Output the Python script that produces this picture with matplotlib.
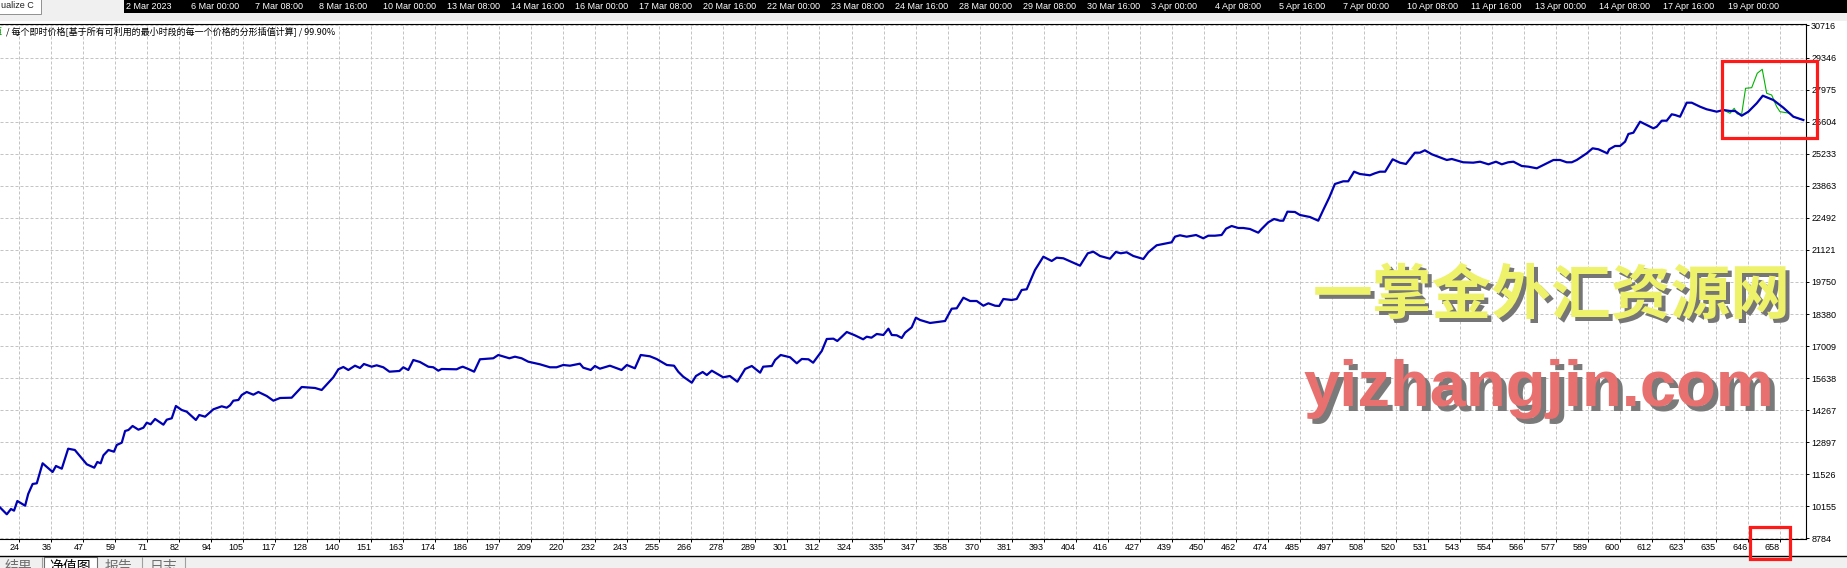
import matplotlib
matplotlib.use("Agg")
import matplotlib.pyplot as plt
from matplotlib.patches import Rectangle
import numpy as np

# balance curve (trade number, balance)
trade = [17.0, 19.5, 21.0, 22.1, 23.3, 26.1, 27.2, 28.8, 30.3, 32.4, 36.0, 37.2, 39.3, 41.6, 44.0,
         48.3, 51.0, 52.1, 53.3, 54.3, 56.1, 58.1, 59.1, 60.9, 62.1, 63.3, 64.8, 66.9, 68.7, 69.9,
         71.3, 72.9, 75.9, 77.1, 78.9, 80.4, 82.5, 84.3, 87.6, 88.8, 90.9, 93.9, 96.9, 98.7, 99.9,
         101.1, 102.9, 104.1, 105.9, 108.3, 110.1, 113.1, 115.5, 117.9, 122.1, 125.7, 130.5, 132.9,
         137.1, 138.9, 140.7, 142.5, 144.9, 146.7, 148.1, 150.9, 152.7, 155.1, 157.3, 160.9, 162.3,
         164.1, 165.9, 168.3, 171.3, 173.1, 174.9, 176.1, 181.5, 182.7,
         183.7, 185.7, 187.8, 189.9, 194.7, 196.5, 200.5, 202.5, 204.9, 207.3, 211.5, 215.1, 217.5,
         219.9, 222.3, 225.9, 227.1, 229.8, 231.3, 233.1, 236.7, 240.9, 242.8, 245.7, 247.8, 251.1,
         253.5, 257.2, 259.8, 261.3, 263.1, 266.2, 267.7, 270.1, 271.6, 273.4, 277.5, 279.9, 282.6,
         285.4, 287.8, 290.8, 291.9, 295.0, 296.2, 298.2, 301.6, 304.0, 305.8, 308.2, 309.9, 313.0,
         314.8, 317.2, 318.6, 322.0, 324.9, 327.9, 329.2, 330.9, 332.8, 335.2, 337.0, 338.2, 340.0,
         341.8, 343.0, 345.4, 346.9, 348.4,
         352.0, 357.4, 359.8, 361.6, 364.0, 366.4, 368.8, 371.2, 373.0, 375.4, 376.9, 378.4, 381.4,
         383.2, 385.0, 386.8, 389.8, 392.8, 395.8, 397.6, 400.0, 403.6, 406.0, 408.8, 410.8, 413.2,
         416.8, 418.9, 420.7, 422.8, 425.2, 428.8, 430.6, 433.6, 436.0, 439.0, 440.2, 442.0, 444.4,
         447.8, 450.4, 452.2, 454.6, 457.0, 458.6, 460.6, 463.0, 464.8, 467.2, 470.2, 471.4, 473.8,
         475.9, 478.0, 479.2, 480.7, 483.4, 485.2, 488.8, 491.8, 493.6, 495.8, 497.8, 500.8, 502.6,
         504.7, 506.8, 510.4, 512.2, 514.0,
         515.9, 518.6, 521.2, 523.4, 526.6, 528.4, 530.2, 532.7, 535.6, 538.1, 539.9, 544.0, 547.6,
         550.1, 553.1, 555.8, 557.9, 560.2, 562.1, 565.1, 567.5, 570.5, 574.1, 576.5, 578.9, 581.3,
         583.1, 584.9, 588.5, 590.6, 592.7, 595.9, 596.6, 598.7, 600.5, 602.3, 603.5, 605.3, 607.7,
         610.1, 612.5, 613.7, 615.5, 617.3, 619.1, 620.3, 622.1, 624.5, 626.3, 629.3, 631.7, 635.3,
         637.7, 640.1, 641.9, 644.3, 646.7, 649.7, 651.9, 655.7, 659.3, 662.9, 666.5]
balance = [10116, 9817, 10043, 9971, 10385, 10184, 10684, 11112, 11142, 11997, 11625, 11882, 11766, 12621, 12566,
           11954, 11809, 12053, 11997, 12339, 12566, 12493, 12780, 12878, 13378, 13421, 13592, 13434, 13519, 13733,
           13665, 13891, 13648, 13861, 13921, 14447, 14276, 14203, 13849, 14062, 13990, 14306, 14434, 14374, 14477,
           14674, 14704, 14917, 15046, 14930, 15046, 14875, 14674, 14789, 14802, 15259, 15217, 15131,
           15674, 16016, 16115, 15986, 16170, 16072, 16243, 16127, 16187, 16102, 15914, 15944, 16102,
           15986, 16414, 16328, 16127, 16102, 15956, 16029, 16016, 16085,
           16127, 16029, 15914, 16444, 16487, 16628, 16487, 16555, 16487, 16341, 16230, 16102, 16102,
           16200, 16170, 16256, 16085, 15986, 16157, 16042, 16170, 15986, 16200, 16059, 16628, 16572,
           16457, 16200, 16170, 15914, 15700, 15443, 15730, 15901, 15772, 15956, 15674, 15730, 15486,
           16029, 16157, 15871, 16127, 16157, 16414, 16628, 16529, 16273, 16457, 16444, 16298, 16799,
           17312, 17325, 17226, 17611, 17470, 17299, 17410, 17367, 17526, 17483, 17752, 17483, 17470,
           17355, 17581, 17812, 18222, 18124,
           17996, 18081, 18607, 18624, 19077, 18936, 18936, 18735, 18838, 18735, 18723, 19022, 18979,
           19022, 19407, 19437, 20262, 20831, 20647, 20788, 20762, 20574, 20446, 20976, 21044, 20861,
           20745, 21032, 20976, 21019, 20861, 20732, 21019, 21318, 21374, 21446, 21686, 21746, 21686,
           21758, 21617, 21728, 21728, 21758, 22028, 22143, 22058, 22058, 22015, 21857, 22015, 22301,
           22442, 22370, 22370, 22755, 22742, 22614, 22528, 22370, 22827, 23370, 23939, 24054, 24054,
           24465, 24367, 24311, 24396, 24465,
           24465, 24995, 24850, 24794, 25277, 25277, 25380, 25209, 25080, 24965, 25008, 24867, 24850,
           24892, 24781, 24892, 24781, 24867, 24892, 24708, 24679, 24610, 24824, 24965, 24965, 24867,
           24867, 24965, 25251, 25465, 25423, 25251, 25423, 25564, 25564, 25748, 26077, 26132, 26603,
           26462, 26320, 26389, 26645, 26645, 26919, 26889, 26816, 27415, 27415, 27244, 27133, 27030,
           27103, 27060, 27060, 26859, 27030, 27389, 27714, 27530, 27201, 26816, 26675]

# equity only departs from balance near the end
eq_trade = [637.7, 640.1, 641.6, 642.7, 644.3, 645.7, 647.9, 649.9, 651.7, 653.3, 655.1, 656.9,
            658.1, 661.7, 662.9, 666.5]
equity = [27103, 26962, 27175, 26932, 26932, 28031, 28056, 28672, 28843, 27817, 27744, 27244,
          27030, 26962, 26816, 26675]

x_labels = [24, 36, 47, 59, 71, 82, 94, 105, 117, 128, 140, 151, 163, 174, 186, 197, 209, 220, 232,
            243, 255, 266, 278, 289, 301, 312, 324, 335, 347, 358, 370, 381, 393, 404, 416, 427, 439,
            450, 462, 474, 485, 497, 508, 520, 531, 543, 554, 566, 577, 589, 600, 612, 623, 635, 646, 658]
y_labels = [8784, 10155, 11526, 12897, 14267, 15638, 17009, 18380, 19750, 21121, 22492, 23863,
            25233, 26604, 27975, 29346, 30716]
dates = ["2 Mar 2023", "6 Mar 00:00", "7 Mar 08:00", "8 Mar 16:00", "10 Mar 00:00", "13 Mar 08:00",
         "14 Mar 16:00", "16 Mar 00:00", "17 Mar 08:00", "20 Mar 16:00", "22 Mar 00:00", "23 Mar 08:00",
         "24 Mar 16:00", "28 Mar 00:00", "29 Mar 08:00", "30 Mar 16:00", "3 Apr 00:00", "4 Apr 08:00",
         "5 Apr 16:00", "7 Apr 00:00", "10 Apr 08:00", "11 Apr 16:00", "13 Apr 00:00", "14 Apr 08:00",
         "17 Apr 16:00", "19 Apr 00:00"]
tabs = ["结果", "净值图", "报告", "日志"]
header = "/ 每个即时价格[基于所有可利用的最小时段的每一个价格的分形插值计算] / 99.90%"

W, H = 1847, 568
CJK = ['Noto Sans CJK SC', 'DejaVu Sans']
plt.rcParams['font.family'] = ['Liberation Sans', 'DejaVu Sans']

fig = plt.figure(figsize=(W / 100, H / 100), dpi=100)
fig.patch.set_facecolor('white')

# background: window chrome in pixel coordinates
bg = fig.add_axes([0, 0, 1, 1], zorder=0)
bg.set_xlim(0, W)
bg.set_ylim(H, 0)
bg.axis('off')
bg.add_patch(Rectangle((0, 0), W, 21, color='#f0f0f0', lw=0))
bg.add_patch(Rectangle((124, 0), W - 124, 12.7, color='black', lw=0))
bg.add_patch(Rectangle((-1, -1), 42, 15, fc='white', ec='#909090', lw=0.7))
bg.text(1, 5, 'ualize C', fontsize=6.5, color='#202020', va='center')
for i, d in enumerate(dates):
    bg.text(126.5 + 64.04 * i, 6.3, d, color='white', fontsize=6.5, va='center', ha='left')

bg.add_patch(Rectangle((0, 556), W, 12, color='#f0f0f0', lw=0))
bg.plot([0, W], [556, 556], color='black', lw=1)
bg.add_patch(Rectangle((44, 556.5), 53, 13, fc='white', ec='#707070', lw=0.8))
for xl in [41.5, 142, 185]:
    bg.plot([xl, xl], [557, 568], color='#a0a0a0', lw=0.8)
tab_x = [18, 70, 118, 163]
for i, t in enumerate(tabs):
    bg.text(tab_x[i], 559.5, t, family=CJK, fontsize=10, ha='center', va='top',
            color='black' if i == 1 else '#707070')

# main chart
ax = fig.add_axes([0, 1 - 539 / H, 1806 / W, (539 - 23.5) / H], zorder=1)
ax.plot(eq_trade, equity, color='#00b400', lw=0.8, zorder=3)
ax.plot(trade, balance, color='#0000b4', lw=1.6, zorder=4)
ax.set_xlim(17.05, 667.46)
ax.set_ylim(8760, 30801)

ax.set_xticks(np.linspace(x_labels[0], x_labels[-1], len(x_labels)))
ax.set_xticklabels([str(v) for v in x_labels], ha='right')
ax.set_yticks(np.linspace(y_labels[0], y_labels[-1], len(y_labels)))
ax.set_yticklabels([str(v) for v in y_labels])
ax.yaxis.tick_right()
ax.tick_params(axis='x', direction='out', length=2.2, width=0.7, pad=0.8, labelsize=6.5)
ax.tick_params(axis='y', direction='out', length=2.2, width=0.7, pad=1.5, labelsize=6.5)
ax.grid(True, color='#c4c4c4', linestyle=(0, (3, 2)), linewidth=0.72)
ax.set_axisbelow(True)
ax.spines['left'].set_visible(False)
for s in ['top', 'right', 'bottom']:
    ax.spines[s].set_color('black')
    ax.spines[s].set_linewidth(0.8)

# overlay: header, watermark, red marks
ov = fig.add_axes([0, 0, 1, 1], zorder=3)
ov.set_xlim(0, W)
ov.set_ylim(H, 0)
ov.axis('off')
ov.text(2.5, 31.5, '净值', family=CJK, fontsize=6.5, color='#00a000', ha='right', va='center')
ov.text(6, 31.5, header, family=CJK, fontsize=6.5, color='black', ha='left', va='center')

ov.text(1556, 302, '一掌金外汇资源网', family=CJK, fontsize=43, weight='bold',
        color='#767676', ha='center', va='center')
ov.text(1552, 298, '一掌金外汇资源网', family=CJK, fontsize=43, weight='bold',
        color='#eef26a', ha='center', va='center')
ov.text(1544, 394, 'yizhangjin.com', family=['Liberation Sans'], fontsize=47, weight='bold',
        color='#7a7a7a', ha='center', va='center')
ov.text(1539, 389, 'yizhangjin.com', family=['Liberation Sans'], fontsize=47, weight='bold',
        color='#e8706e', ha='center', va='center')

ov.add_patch(Rectangle((1722, 61), 95, 77, fill=False, ec='#ff1a1a', lw=2.3))
ov.add_patch(Rectangle((1750, 527), 40, 32, fill=False, ec='#ff1a1a', lw=2.3))

fig.savefig('out.png', dpi=100)
